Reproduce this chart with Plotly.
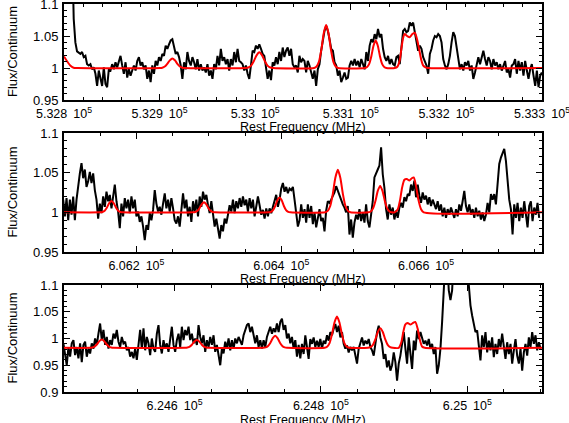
import numpy as np
import plotly.graph_objects as go

# ---------------- data ----------------
# Panel 1 : 532.8 - 533.3 GHz  (channel grid: first channel + channel width, MHz)
P1_F0, P1_DF = 532808.4, 1.749
p1_flux = [
    1.2, 1.077, 1.040, 1.026, 1.024, 1.022, 1.025, 1.017, 1.019, 1.006,
    1.004, 1.006, 0.998, 1.001, 0.991, 0.972, 0.996, 0.983, 0.972, 1.001,
    0.975, 0.970, 0.998, 0.996, 1.006, 0.998, 1.009, 1.001, 1.011, 1.019,
    1.004, 0.991, 1.009, 0.985, 0.998, 0.988, 0.996, 1.004, 0.996, 1.011,
    1.017, 1.004, 1.009, 0.998, 1.004, 0.983, 0.996, 0.978, 1.004, 0.991,
    1.011, 1.004, 1.017, 1.011, 1.022, 1.019, 1.035, 1.030, 1.037, 1.043,
    1.045, 1.032, 1.022, 1.025, 1.017, 1.004, 0.983, 1.009, 0.998, 1.025,
    1.011, 1.004, 1.017, 1.009, 0.998, 1.014, 0.996, 1.006, 0.996, 1.001,
    0.993, 1.006, 0.988, 0.996, 0.983, 1.006, 0.998, 1.019, 1.004, 1.030,
    1.011, 1.017, 1.006, 1.014, 0.996, 1.014, 1.004, 1.025, 1.009, 1.030,
    1.011, 1.009, 1.006, 0.996, 1.004, 0.991, 0.983, 1.004, 1.027, 1.025,
    1.035, 1.030, 1.037, 1.030, 1.022, 1.019, 1.004, 0.983, 0.996, 0.981,
    1.009, 1.004, 1.017, 1.006, 1.025, 1.011, 1.032, 1.017, 1.027, 1.032,
    1.019, 1.030, 1.006, 1.001, 1.004, 0.993, 1.019, 1.009,
    1.014, 1.011, 0.993, 1.011, 1.004, 0.991, 0.983, 0.996, 0.972, 0.998,
    1.006, 1.027, 1.043, 1.058, 1.066, 1.058, 1.045, 1.030, 1.027, 1.009,
    1.004, 0.988, 0.996, 0.978, 0.985, 0.993, 0.983, 0.985, 1.004, 1.011,
    1.004, 1.014, 1.004, 1.011, 1.001, 1.014, 1.006, 0.998, 1.025, 1.011,
    1.035, 1.045, 1.040, 1.053, 1.045, 1.061, 1.048, 1.053, 1.030, 1.017,
    1.011, 1.019, 1.006, 1.014, 1.006, 1.004, 1.017, 1.019, 1.006, 1.030,
    1.058, 1.061, 1.056, 1.058, 1.071, 1.066, 1.071, 1.056, 1.040, 1.027,
    1.035, 1.030, 1.017, 1.011, 1.004, 0.991, 1.022, 1.030, 1.043, 1.050,
    1.048, 1.053, 1.050, 1.040, 1.014, 1.004, 0.998, 1.006, 1.019, 1.040,
    1.056, 1.050, 1.030, 1.017, 0.998, 1.006, 0.996, 1.009, 1.004, 1.011,
    0.996, 1.004, 0.983, 0.993, 1.006, 1.017, 1.006, 1.019, 1.027, 1.014,
    1.004, 1.017, 1.011, 0.998, 1.014, 1.004, 1.009, 0.998, 1.006, 0.996,
    1.004, 1.011, 0.993, 0.998, 0.985, 1.004, 1.006, 1.014, 0.991, 1.011,
    0.996, 1.009, 0.988, 1.011, 0.996, 0.983, 0.998, 1.006, 0.988, 0.972,
    0.996, 0.970, 0.988, 0.993,
]
p1_model_f = [532800, 532803, 532806.5, 532810, 532814,
              532900.2, 532902.8, 532905.4, 532908, 532910.7, 532913.3, 532916, 532918.6, 532921.2, 532923.8, 532926.4,
              532989.9, 532992.8, 532995.7, 532998.5, 533001.4, 533004.3, 533007.2, 533010.1, 533012.9, 533015.8, 533018.7,
              533061.7, 533064.2, 533066.7, 533069.2, 533071.7, 533074.2, 533076.7, 533079.2, 533081.7, 533084.2, 533086.7,
              533114.75, 533117, 533119.25, 533121.5, 533123.75, 533126, 533128.25, 533130.5, 533132.75, 533135, 533137.25,
              533146, 533148.7, 533151.2, 533152.9, 533154.7, 533156.4, 533158.9, 533161.6, 533164.4, 533166.9, 533169.3,
              533171.4, 533173.8, 533175.6, 533178.1, 533181, 533300]
p1_model_v = [1.018, 1.011, 1.004, 1.0005, 1.0,
              1.0, 1.0005, 1.0023, 1.0065, 1.012, 1.015, 1.012, 1.0065, 1.0023, 1.0005, 1.0,
              1.0, 1.0008, 1.0037, 1.0105, 1.0198, 1.0245, 1.0198, 1.0105, 1.0037, 1.0008, 1.0,
              1.0, 1.0023, 1.010, 1.0288, 1.0543, 1.067, 1.0543, 1.0288, 1.010, 1.0023, 1.0,
              1.0, 1.0015, 1.0065, 1.0185, 1.0348, 1.043, 1.0348, 1.0185, 1.0065, 1.0015, 1.0,
              1.0, 1.002, 1.012, 1.030, 1.047, 1.053, 1.050, 1.048, 1.053, 1.055, 1.045,
              1.030, 1.012, 1.004, 1.001, 1.0, 1.0]

# Panel 2 : 606.1 - 606.76 GHz
P2_F0, P2_DF = 606098.9, 2.298
p2_flux = [
    1.016, 0.995, 1.018, 0.990, 1.016, 0.997, 1.020, 0.990, 1.016, 1.037,
    1.049, 1.062, 1.043, 1.054, 1.032, 1.039, 1.051, 1.037, 1.049, 1.028,
    1.016, 0.992, 1.011, 0.999, 1.020, 1.007, 1.026, 1.014, 1.022, 1.005,
    1.024, 1.035, 1.014, 1.001, 0.980, 1.011, 0.995, 1.018, 1.005, 1.016,
    0.999, 1.020, 1.005, 1.016, 0.995, 1.001, 0.988, 0.995, 0.982, 0.965,
    0.984, 0.978, 0.999, 0.990, 1.003, 1.028, 1.011, 1.001, 1.007, 0.997,
    1.011, 1.024, 1.005, 1.016, 1.001, 1.018, 1.005, 0.990, 0.986, 0.995,
    0.982, 1.003, 1.024, 1.005, 1.016, 0.995, 1.007, 0.988, 1.014, 1.001,
    1.016, 0.995, 1.020, 1.007, 1.026, 1.016, 1.022, 1.009, 0.999, 1.014,
    0.995, 0.982, 0.992, 0.978, 0.967, 0.984, 0.976, 0.992, 0.986, 0.997,
    1.009, 1.001, 1.016, 0.999, 1.014, 1.005, 1.018, 1.007, 1.020, 1.009,
    1.016, 1.001, 1.018, 1.005, 1.016, 0.995, 1.007, 1.020, 1.009, 0.997,
    1.003, 0.992, 1.005, 0.995, 1.005, 0.999, 1.007, 1.016, 1.022, 1.007,
    1.016, 1.030, 1.037, 1.026, 1.032, 1.024, 1.030, 1.028, 1.032, 1.016,
    0.997, 0.982, 0.990,
    1.010, 0.993, 1.004, 0.987, 1.010, 0.993, 1.008, 0.985, 1.000, 0.981,
    0.993, 1.004, 0.989, 0.993, 0.976, 1.002, 1.014, 1.012, 1.016, 1.021,
    1.025, 1.033, 1.027, 1.023, 1.016, 1.010, 1.006, 1.000, 1.008, 0.972,
    0.991, 0.968, 0.987, 0.997, 0.991, 1.004, 0.989, 1.000, 0.987, 1.010,
    0.989, 0.981, 0.997, 1.014, 1.044, 1.048, 1.054, 1.059, 1.082, 1.048,
    1.031, 1.004, 0.991, 1.010, 0.997, 1.006, 0.991, 1.002, 0.993, 1.006,
    1.012, 1.006, 1.019, 1.014, 1.023, 1.021, 1.035, 1.027, 1.040, 1.019,
    1.035, 1.021, 1.012, 1.025, 1.016, 1.021, 1.010, 1.019, 1.008, 1.016,
    1.010, 1.004, 1.014, 1.002, 1.010, 0.995, 1.006, 0.993, 1.004, 0.997,
    1.006, 1.000, 0.993, 1.004, 0.995, 1.010, 1.002, 1.014, 1.027, 1.008,
    1.000, 1.010, 0.997, 1.004, 0.993, 1.006, 0.995, 1.002, 0.991, 1.000,
    0.989, 0.997, 1.012, 1.000, 1.023, 1.016, 1.023, 1.010, 1.040, 1.061,
    1.069, 1.076, 1.080, 1.065, 1.040, 1.016, 1.004, 0.972, 1.010, 0.993,
    1.012, 0.989, 1.006, 0.993, 1.014, 0.997, 0.981, 1.008, 1.014, 0.989,
    1.006, 0.997, 1.012, 0.993,
]
p2_model_f = [606100,
              606150, 606153.1, 606156.2, 606159.3, 606162.4, 606165.5, 606168.6, 606171.7, 606174.8, 606177.9, 606181,
              606278.3, 606281.3, 606284.3, 606287.3, 606290.3, 606293.3, 606296.3, 606299.3, 606302.3, 606305.3, 606308.3,
              606382.6, 606385.6, 606388.6, 606391.6, 606394.6, 606397.6, 606400.6, 606403.6, 606406.6, 606409.6, 606412.6,
              606460.6, 606464.1, 606467.6, 606471.1, 606474.6, 606478.1, 606481.6, 606485.1, 606488.6, 606492.1, 606495.6,
              606520.25, 606523.5, 606526.75, 606530, 606533.25, 606536.5, 606539.75, 606543, 606546.25, 606549.5, 606552.75,
              606556.2, 606560.9, 606564.1, 606566.8, 606570, 606573.3, 606576.9, 606580.2, 606582.9, 606586.1, 606589.3,
              606593, 606596.7, 606760]
p2_model_v = [1.0,
              1.0, 1.0005, 1.0021, 1.0061, 1.0116, 1.0143, 1.0116, 1.0061, 1.0021, 1.0005, 1.0,
              1.0, 1.0004, 1.0019, 1.0055, 1.0103, 1.0127, 1.0103, 1.0055, 1.0019, 1.0004, 1.0,
              1.0, 1.0006, 1.0028, 1.008, 1.0151, 1.0186, 1.0151, 1.008, 1.0028, 1.0006, 1.0,
              1.0, 1.0018, 1.008, 1.023, 1.0434, 1.0536, 1.0434, 1.023, 1.008, 1.0018, 1.0,
              1.0, 1.0011, 1.005, 1.0143, 1.027, 1.0333, 1.027, 1.0143, 1.005, 1.0011, 1.0,
              1.0, 1.004, 1.016, 1.031, 1.041, 1.042, 1.040, 1.043, 1.044, 1.033, 1.016,
              1.004, 1.0, 1.0]

# Panel 3 : 624.45 - 625.1 GHz
P3_F0, P3_DF = 624448.2, 2.279
p3_flux = [
    0.991, 0.969, 0.950, 0.984, 0.966, 0.991, 0.997, 0.969, 0.984, 0.963,
    0.991, 0.956, 0.988, 0.994, 0.966, 0.981, 0.972, 0.991, 0.981, 1.000,
    0.988, 1.009, 1.028, 0.997, 1.016, 0.988, 1.003, 0.981, 0.997, 0.988,
    1.009, 1.000, 1.016, 0.994, 0.984, 1.003, 0.991, 0.994, 0.978, 0.984,
    0.966, 0.975, 0.963, 0.981, 0.960, 0.988, 1.016, 0.981, 1.019, 0.978,
    1.003, 0.991, 0.969, 1.000, 0.981, 0.975, 1.009, 1.025, 0.988, 0.972,
    0.997, 0.981, 0.991, 0.975, 1.003, 1.022, 0.988, 0.975, 0.997, 1.009,
    0.984, 1.022, 0.997, 1.016, 1.006, 1.022, 0.997, 1.009, 0.991, 1.000,
    0.988, 1.025, 1.003, 0.991, 1.006, 0.975, 0.997, 0.984, 1.003, 0.988,
    1.006, 0.975, 0.988, 0.969, 0.950, 0.981, 0.972, 0.994, 0.981, 1.000,
    0.978, 0.997, 0.981, 1.000, 0.991, 1.003, 0.994, 0.988, 1.006, 1.016,
    1.025, 1.028, 1.012, 1.022, 1.003, 0.991, 1.006, 0.984, 0.997, 0.981,
    0.997, 0.984, 1.003, 1.012, 1.022, 1.009, 1.019, 1.012, 1.028, 1.012,
    1.031, 1.037, 1.016, 1.025, 1.000, 1.009, 0.991, 1.003, 0.981, 0.997,
    0.966, 0.988, 0.963,
    0.990, 0.971, 1.006, 0.981, 0.962, 0.999, 0.990, 1.002, 0.984, 0.996,
    0.984, 0.999, 0.981, 0.996, 0.990, 1.006, 0.996, 1.012, 1.006, 1.018,
    1.027, 1.012, 1.024, 1.002, 1.012, 0.990, 0.981, 0.987, 0.974, 0.984,
    0.978, 0.984, 0.971, 0.953, 0.981, 0.993, 1.002, 0.987, 0.996, 0.990,
    0.999, 0.984, 0.978, 0.968, 0.993, 1.012, 1.024, 1.002, 0.990, 0.962,
    0.971, 0.946, 0.959, 0.940, 0.950, 0.974, 0.956, 0.921, 0.953, 0.968,
    0.990, 1.012, 0.981, 0.953, 1.002, 0.974, 0.943, 0.996, 0.978, 1.015,
    0.999, 1.012, 1.002, 0.990, 0.996, 0.987, 0.999, 0.981, 0.990, 0.971,
    0.984, 0.934, 0.950, 0.981, 1.031, 1.150, 1.150, 1.150, 1.090, 1.072,
    1.090, 1.150, 1.150, 1.150, 1.150, 1.150, 1.150, 1.150, 1.150, 1.150,
    1.100, 1.062, 1.043, 1.024, 1.012, 1.015, 0.990, 0.959, 1.006, 0.984,
    1.012, 0.974, 0.996, 0.978, 1.002, 0.965, 0.990, 0.971, 0.999, 0.984,
    1.009, 0.987, 0.962, 0.993, 0.971, 0.990, 0.953, 0.978, 0.999, 0.968,
    0.953, 0.981, 0.940, 0.974, 0.990, 0.968, 1.002, 0.984, 1.012, 0.990,
    1.006, 0.978, 0.993, 0.981,
]
p3_model_f = [624448,
              624484.35, 624487.6, 624490.85, 624494.1, 624497.35, 624500.6, 624503.85, 624507.1, 624510.35, 624513.6, 624516.85,
              624614.25, 624617.5, 624620.75, 624624, 624627.25, 624630.5, 624633.75, 624637, 624640.25, 624643.5, 624646.75,
              624721.25, 624724.5, 624727.75, 624731, 624734.25, 624737.5, 624740.75, 624744, 624747.25, 624750.5, 624753.75,
              624805.0, 624808.4, 624811.8, 624815.1, 624818.5, 624821.9, 624825.3, 624828.7, 624832.0, 624835.4, 624838.8,
              624864.2, 624867.6, 624871.0, 624874.3, 624877.7, 624881.1, 624884.5, 624887.9, 624891.2, 624894.6, 624898,
              624906.2, 624909.8, 624912.5, 624915.2, 624918.5, 624922.1, 624925.8, 624928.9, 624932.2, 624934.9, 624938.1,
              624941.8, 625102]
p3_model_v = [0.9826,
              0.9826, 0.9831, 0.9849, 0.9892, 0.9951, 0.998, 0.9951, 0.9892, 0.9849, 0.9831, 0.9826,
              0.9826, 0.9831, 0.9848, 0.9888, 0.9943, 0.997, 0.9943, 0.9888, 0.9848, 0.9831, 0.9826,
              0.9826, 0.9834, 0.9860, 0.9922, 1.0007, 1.005, 1.0007, 0.9922, 0.9860, 0.9834, 0.9826,
              0.9826, 0.9846, 0.9914, 1.0077, 1.0299, 1.041, 1.0299, 1.0077, 0.9914, 0.9846, 0.9826,
              0.9826, 0.9838, 0.9881, 0.9983, 1.0121, 1.019, 1.0121, 0.9983, 0.9881, 0.9838, 0.9826,
              0.9826, 0.993, 1.012, 1.026, 1.029, 1.026, 1.029, 1.031, 1.018, 0.999, 0.985,
              0.9826, 0.9826]

# axis ranges and ticks
x_ranges = [(532800, 533300), (606100, 606760), (624449, 625102)]
x_tickvals = [[532800, 532900, 533000, 533100, 533200, 533300],
              [606200, 606400, 606600],
              [624600, 624800, 625000]]
x_ticktext = [["5.328", "5.329", "5.33", "5.331", "5.332", "5.333"],
              ["6.062", "6.064", "6.066"],
              ["6.246", "6.248", "6.25"]]
x_minor = [20, 50, 50]
y_ranges = [(0.95, 1.1), (0.95, 1.1), (0.9, 1.1)]
y_tickvals = [[0.95, 1.0, 1.05, 1.1], [0.95, 1.0, 1.05, 1.1], [0.9, 0.95, 1.0, 1.05, 1.1]]
y_ticktext = [["0.95", "1", "1.05", "1.1"], ["0.95", "1", "1.05", "1.1"],
              ["0.9", "0.95", "1", "1.05", "1.1"]]

# ---------------- figure ----------------
W, H = 569, 423
ML, MR, MT, MB = 64, 27, 4, 31
plot_h = H - MT - MB
panels_px = [(4, 100), (133, 252), (285, 392)]  # top, bottom in pixels


def py_to_paper(py):
    return (H - MB - py) / plot_h


fig = go.Figure()
spectra = [(P1_F0, P1_DF, p1_flux, p1_model_f, p1_model_v),
           (P2_F0, P2_DF, p2_flux, p2_model_f, p2_model_v),
           (P3_F0, P3_DF, p3_flux, p3_model_f, p3_model_v)]

FONT = "Liberation Sans, Arial, Helvetica, sans-serif"
YTICK_FONT = dict(family=FONT, size=13, color="black")
XTICK_FONT = dict(family=FONT, size=12.5, color="black")
TITLE_FONT = dict(family=FONT, size=12.5, color="black")
layout = dict(
    width=W, height=H,
    margin=dict(l=ML, r=MR, t=MT, b=MB, pad=0),
    paper_bgcolor="white", plot_bgcolor="white",
    showlegend=False,
    font=dict(family=FONT, size=12, color="black"),
)
annotations = []
for i, (f0, df, flux, mf, mv) in enumerate(spectra):
    n = "" if i == 0 else str(i + 1)
    freq = f0 + df * np.arange(len(flux))
    fig.add_trace(go.Scatter(x=freq, y=flux, mode="lines",
                             line=dict(color="black", width=2),
                             xaxis="x" + n, yaxis="y" + n))
    fig.add_trace(go.Scatter(x=mf, y=mv, mode="lines",
                             line=dict(color="#ff0000", width=2, shape="spline", smoothing=0.6),
                             xaxis="x" + n, yaxis="y" + n))
    top, bot = panels_px[i]
    dom = [py_to_paper(bot), py_to_paper(top)]
    common = dict(showline=True, linewidth=2, linecolor="black", mirror="allticks",
                  ticks="inside", ticklen=6, tickwidth=1, tickcolor="black",
                  showgrid=False, zeroline=False, fixedrange=True, automargin=False,
                  ticklabeloverflow="allow")
    layout["xaxis" + n] = dict(
        common, anchor="y" + n, domain=[0, 1], range=list(x_ranges[i]),
        tickfont=XTICK_FONT,
        tickmode="array", tickvals=x_tickvals[i], ticklabelstandoff=1,
        ticktext=[t + "\u00a0\u2009" + "10<sup>5</sup>" for t in x_ticktext[i]],
        minor=dict(ticks="inside", ticklen=3, tickwidth=1, tickcolor="black",
                   tickmode="linear", tick0=x_tickvals[i][0], dtick=x_minor[i]),
    )
    layout["yaxis" + n] = dict(
        common, anchor="x" + n, domain=dom, range=list(y_ranges[i]),
        tickfont=YTICK_FONT,
        tickmode="array", tickvals=y_tickvals[i], ticktext=y_ticktext[i],
        ticklabelstandoff=1,
        minor=dict(ticks="inside", ticklen=3, tickwidth=1, tickcolor="black",
                   tickmode="linear", tick0=0.9, dtick=0.01),
    )
    annotations.append(dict(text="Rest Frequency (MHz)", xref="paper", yref="paper",
                            x=0.5, y=py_to_paper(bot + 27.5), xanchor="center", yanchor="middle",
                            showarrow=False, font=TITLE_FONT))
    annotations.append(dict(text="Flux/Continuum", xref="paper", yref="paper",
                            x=(12 - ML) / (W - ML - MR), y=py_to_paper((top + bot) / 2),
                            xanchor="center", yanchor="middle", textangle=-90,
                            showarrow=False, font=dict(family=FONT, size=13, color="black")))

layout["annotations"] = annotations
fig.update_layout(**layout)
fig.write_html("out.html",
               config={"displayModeBar": False, "staticPlot": True},
               post_script="document.body.style.margin='0';document.body.style.padding='0';"
                           "document.body.style.overflow='hidden';")
